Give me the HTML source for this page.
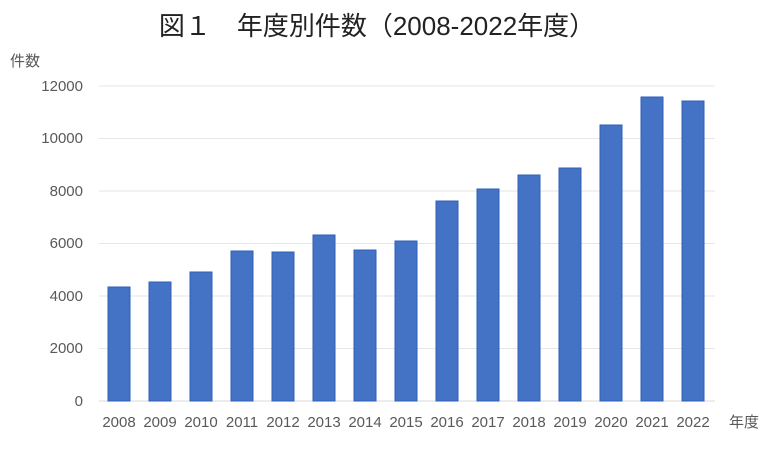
<!DOCTYPE html>
<html><head><meta charset="utf-8"><style>
body{margin:0;background:#fff;}
svg text{font-family:"Liberation Sans","Noto Sans CJK JP",sans-serif;fill:#595959;}
</style></head><body>
<svg width="780" height="450" viewBox="0 0 780 450" xmlns="http://www.w3.org/2000/svg">
<text x="377" y="35" text-anchor="middle" font-size="26" style="fill:#222">図１　年度別件数（2008-2022年度）</text>
<text x="10" y="66" font-size="15">件数</text>
<g stroke="#e6e6e6" stroke-width="1">
<line x1="99" x2="715" y1="86" y2="86"/>
<line x1="99" x2="715" y1="138.5" y2="138.5"/>
<line x1="99" x2="715" y1="191" y2="191"/>
<line x1="99" x2="715" y1="243.5" y2="243.5"/>
<line x1="99" x2="715" y1="296" y2="296"/>
<line x1="99" x2="715" y1="348.5" y2="348.5"/>
<line x1="99" x2="715" y1="401" y2="401" stroke="#d9d9d9"/>
</g>
<g font-size="15" text-anchor="end">
<text x="83" y="91">12000</text>
<text x="83" y="143">10000</text>
<text x="83" y="196">8000</text>
<text x="83" y="248">6000</text>
<text x="83" y="301">4000</text>
<text x="83" y="353">2000</text>
<text x="83" y="406">0</text>
</g>
<g fill="#4472c4" stroke="#2f5fb8" stroke-width="1">
<rect x="108" y="287" width="22" height="114"/>
<rect x="149" y="282" width="22" height="119"/>
<rect x="190" y="272" width="22" height="129"/>
<rect x="231" y="251" width="22" height="150"/>
<rect x="272" y="252" width="22" height="149"/>
<rect x="313" y="235" width="22" height="166"/>
<rect x="354" y="250" width="22" height="151"/>
<rect x="395" y="241" width="22" height="160"/>
<rect x="436" y="201" width="22" height="200"/>
<rect x="477" y="189" width="22" height="212"/>
<rect x="518" y="175" width="22" height="226"/>
<rect x="559" y="168" width="22" height="233"/>
<rect x="600" y="125" width="22" height="276"/>
<rect x="641" y="97" width="22" height="304"/>
<rect x="682" y="101" width="22" height="300"/>
</g>
<g font-size="15" text-anchor="middle">
<text x="119" y="427">2008</text><text x="160" y="427">2009</text><text x="201" y="427">2010</text>
<text x="242" y="427">2011</text><text x="283" y="427">2012</text><text x="324" y="427">2013</text>
<text x="365" y="427">2014</text><text x="406" y="427">2015</text><text x="447" y="427">2016</text>
<text x="488" y="427">2017</text><text x="529" y="427">2018</text><text x="570" y="427">2019</text>
<text x="611" y="427">2020</text><text x="652" y="427">2021</text><text x="693" y="427">2022</text>
</g>
<text x="729" y="427" font-size="15">年度</text>
</svg>
</body></html>
